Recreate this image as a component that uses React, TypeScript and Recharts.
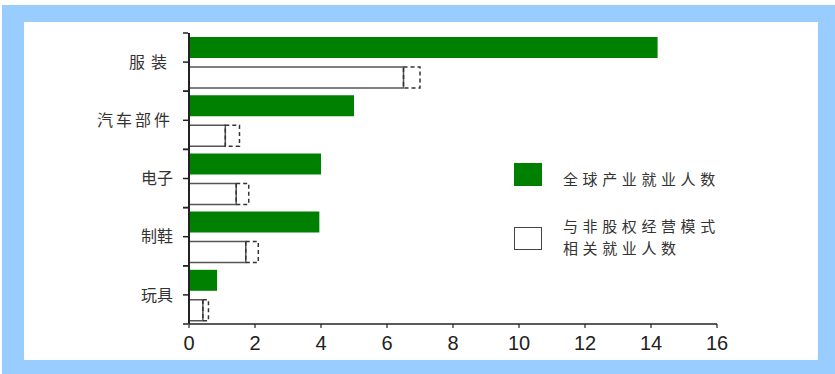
import { BarChart, Bar, XAxis, YAxis, Legend } from 'recharts';

// 行业
const categories = ['服装', '汽车部件', '电子', '制鞋', '玩具'];
// 全球产业就业人数（百万）
const globalJobs = [14.2, 5.0, 4.0, 3.95, 0.85];
// 与非股权经营模式相关就业人数：下限 / 上限
const nemLow = [6.5, 1.1, 1.43, 1.72, 0.42];
const nemHigh = [7.0, 1.53, 1.81, 2.1, 0.59];
const xTicks = [0, 2, 4, 6, 8, 10, 12, 14, 16];

const data = categories.map((name, i) => ({
  name,
  global: globalJobs[i],
  low: nemLow[i],
  ext: +(nemHigh[i] - nemLow[i]).toFixed(2),
}));

const CJK = '"Noto Sans CJK SC", "Noto Sans", sans-serif';
const labelSpacing: Record<string, number> = { '服装': 6, '汽车部件': 3 };

const CategoryTick = (props: any) => {
  const { x, y, payload } = props;
  const half = payload?.offset || 29;
  const ax = x + 7;
  const sp = labelSpacing[payload.value] ?? 0;
  return (
    <g>
      <line x1={ax - 5} x2={ax} y1={y - half} y2={y - half} stroke="#222" strokeWidth={1.5} />
      <line x1={ax - 5} x2={ax} y1={y} y2={y} stroke="#222" strokeWidth={1.5} />
      <line x1={ax - 5} x2={ax} y1={y + half} y2={y + half} stroke="#222" strokeWidth={1.5} />
      <text
        x={ax - 15}
        y={y}
        dy="0.35em"
        textAnchor="end"
        fontSize={16}
        fill="#333"
        fontFamily={CJK}
        letterSpacing={sp}
      >
        {payload.value}
      </text>
    </g>
  );
};

const legendText: React.CSSProperties = {
  position: 'absolute',
  left: 49,
  letterSpacing: 4.6,
  lineHeight: '15px',
  height: 15,
  whiteSpace: 'nowrap',
};

const LegendBox = () => (
  <div style={{ fontFamily: CJK, fontSize: 15, color: '#333', position: 'relative', width: 220, height: 100 }}>
    <div style={{ position: 'absolute', left: 0, top: 3, width: 28, height: 23, background: '#008000' }} />
    <div style={{ ...legendText, top: 10.5 }}>全球产业就业人数</div>
    <div
      style={{
        position: 'absolute',
        left: 0,
        top: 67,
        width: 26,
        height: 21,
        background: '#fff',
        border: '1.5px solid #444',
      }}
    />
    <div style={{ ...legendText, top: 58 }}>与非股权经营模式</div>
    <div style={{ ...legendText, top: 80 }}>相关就业人数</div>
  </div>
);

export default function App() {
  return (
    <div style={{ position: 'fixed', left: 0, top: 0, width: 835, height: 374, background: '#fff' }}>
      <div style={{ position: 'absolute', left: 2, top: 5, width: 833, height: 369, background: '#99ccff' }} />
      <div style={{ position: 'absolute', left: 24, top: 22, width: 794, height: 338, background: '#fff' }} />
      <div style={{ position: 'absolute', left: 0, top: 0 }}>
        <BarChart
          width={835}
          height={374}
          data={data}
          layout="vertical"
          margin={{ top: 33, right: 118, bottom: 20, left: 0 }}
          barCategoryGap={4}
          barGap={9}
        >
          <XAxis
            type="number"
            domain={[0, 16]}
            ticks={xTicks}
            interval={0}
            height={30}
            axisLine={{ stroke: '#222', strokeWidth: 1.5 }}
            tickLine={{ stroke: '#222', strokeWidth: 1.2 }}
            tickSize={4}
            tickMargin={8}
            tick={{ fontSize: 20, fill: '#222', fontFamily: '"Liberation Sans", Arial, sans-serif' }}
          />
          <YAxis
            type="category"
            dataKey="name"
            width={189}
            axisLine={{ stroke: '#222', strokeWidth: 2 }}
            tickLine={false}
            tick={<CategoryTick />}
            interval={0}
          />
          <Legend
            layout="horizontal"
            verticalAlign="middle"
            align="center"
            content={<LegendBox />}
            wrapperStyle={{ left: 514, top: 160, width: 220, height: 100 }}
          />
          <Bar dataKey="global" stackId="global" fill="#008000" isAnimationActive={false} />
          <Bar dataKey="low" stackId="nem" fill="#fff" stroke="#555" strokeWidth={1.5} isAnimationActive={false} />
          <Bar
            dataKey="ext"
            stackId="nem"
            fill="#fff"
            fillOpacity={0}
            stroke="#333"
            strokeWidth={1.5}
            strokeDasharray="4 3"
            isAnimationActive={false}
          />
        </BarChart>
      </div>
    </div>
  );
}
